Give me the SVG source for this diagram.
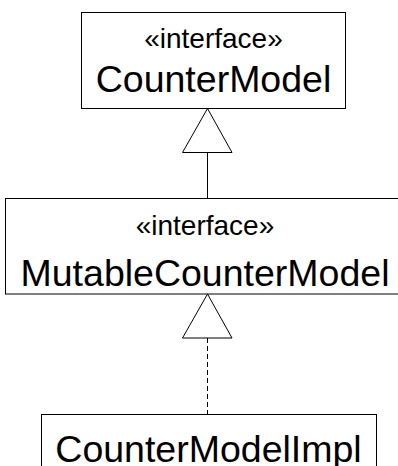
<svg xmlns="http://www.w3.org/2000/svg" width="398" height="466" viewBox="0 0 398 466">
<style>
.box{fill:#fff;stroke:#000;stroke-width:1}
.st{font-family:"Liberation Sans",Arial,sans-serif;font-size:28px;fill:#000;text-anchor:middle}
.nm{font-family:"Liberation Sans",Arial,sans-serif;font-size:37.5px;fill:#000;text-anchor:middle}
.ln{stroke:#000;stroke-width:1;fill:none}
.tri{fill:#fff;stroke:#000;stroke-width:1}
</style>
<rect width="398" height="466" fill="#fff"/>
<g id="connectors">
<line class="ln" x1="207.5" y1="152" x2="207.5" y2="198"/>
<polygon class="tri" points="207.5,108.5 182.5,152.5 232,152.5"/>
<line class="ln" x1="207.5" y1="338" x2="207.5" y2="414" stroke-dasharray="5,3"/>
<polygon class="tri" points="207.5,294 182.5,338 232,338"/>
</g>
<g id="CounterModel">
<rect class="box" x="81.5" y="12.5" width="264" height="96"/>
<text class="st" x="213.5" y="48">«interface»</text>
<text class="nm" x="213.5" y="92">CounterModel</text>
</g>
<g id="MutableCounterModel">
<rect class="box" x="5.5" y="198.5" width="399" height="95.5"/>
<text class="st" x="205" y="235">«interface»</text>
<text class="nm" x="205" y="285.5">MutableCounterModel</text>
</g>
<g id="CounterModelImpl">
<rect class="box" x="41.5" y="414.5" width="335" height="70"/>
<text class="nm" x="208.5" y="461.5">CounterModelImpl</text>
</g>
</svg>
